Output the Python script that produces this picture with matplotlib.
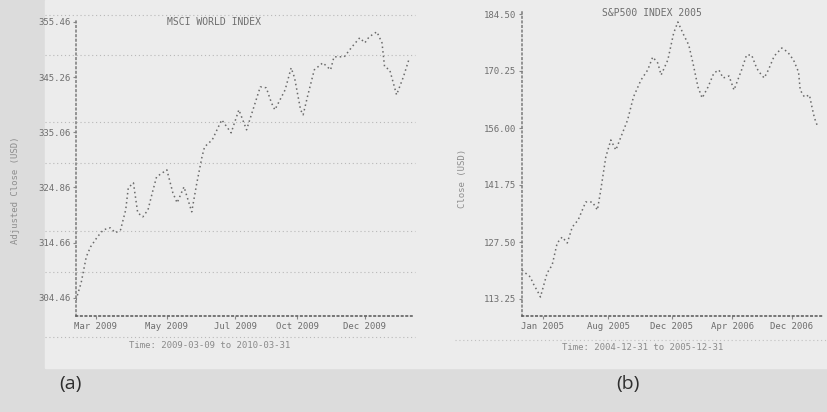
import matplotlib
matplotlib.use("Agg")
import matplotlib.pyplot as plt
from matplotlib.lines import Line2D
from matplotlib.patches import Rectangle

# Datos (a): dias desde el inicio y precio
a_days = [0, 6, 12, 17, 25, 32, 40, 46, 52, 58, 61, 67, 72, 78, 84, 89, 94,
          106, 113, 118, 126, 135, 141, 147, 150, 159, 170, 181, 190, 199,
          215, 222, 228, 232, 244, 251, 255, 262, 265, 270, 278, 288, 297,
          301, 313, 322, 331, 337, 342, 351, 357, 360, 366, 374, 382, 389]
a_price = [304.09, 307.23, 312.04, 313.88, 315.73, 317.03, 317.40, 316.47,
           317.03, 320.72, 324.79, 325.71, 320.17, 319.43, 320.72, 323.86,
           326.82, 328.11, 323.86, 322.02, 324.97, 320.35, 325.71, 330.52,
           332.36, 333.66, 337.35, 334.95, 339.20, 335.51, 343.45, 343.27,
           340.50, 339.20, 342.90, 346.96, 345.12, 339.20, 338.28, 341.60,
           346.59, 347.89, 346.59, 349.00, 349.00, 350.84, 352.51, 351.58,
           352.69, 353.62, 351.58, 347.15, 346.59, 341.97, 345.30, 348.81]
a_yticks = [304.46, 314.66, 324.86, 335.06, 345.26, 355.46]
a_xticks = [23, 106, 186, 258, 337]
a_xlabels = ["Mar 2009", "May 2009", "Jul 2009", "Oct 2009", "Dec 2009"]

# Datos (b)
b_days = [0, 4, 10, 13, 19, 22, 25, 30, 36, 42, 48, 54, 60, 67, 76, 84, 90,
          94, 100, 106, 112, 118, 126, 133, 142, 150, 156, 162, 166, 174,
          181, 186, 193, 199, 204, 210, 215, 222, 229, 235, 240, 247, 253,
          262, 268, 274, 280, 283, 289, 294, 301, 310, 317, 324, 330, 332,
          337, 343, 346, 349, 353]
b_price = [120.50, 119.75, 118.75, 117.25, 115.00, 113.75, 116.00, 119.75,
           121.75, 127.25, 128.75, 127.25, 131.25, 133.00, 137.50, 137.50,
           135.50, 140.50, 148.75, 153.00, 150.50, 153.75, 158.00, 163.75,
           168.00, 170.50, 173.75, 172.25, 169.25, 173.00, 179.75, 182.50,
           179.25, 176.75, 172.25, 166.25, 163.50, 166.25, 169.75, 170.50,
           168.50, 169.00, 165.50, 170.50, 174.25, 174.25, 171.00, 170.00,
           168.50, 170.50, 174.00, 176.00, 175.00, 173.00, 170.00, 165.50,
           163.75, 164.25, 161.25, 158.50, 156.25]
b_yticks = [113.25, 127.50, 141.75, 156.00, 170.25, 184.50]
b_xticks = [25, 103, 179, 251, 322]
b_xlabels = ["Jan 2005", "Aug 2005", "Dec 2005", "Apr 2006", "Dec 2006"]

W, H = 827, 412
ink = "#6e6e6e"
mono = "DejaVu Sans Mono"

fig = plt.figure(figsize=(W / 100, H / 100), dpi=100, facecolor="#dcdcdc")

# fondo del papel escaneado
fig.add_artist(Rectangle((45 / W, 1 - 368 / H), 1 - 45 / W, 368 / H,
                         transform=fig.transFigure, color="#ececec",
                         zorder=-10))
# lineas punteadas que se transparentan del papel
for y in [15, 55, 122, 163, 231, 272, 337]:
    fig.add_artist(Line2D([45 / W, 415 / W], [1 - y / H, 1 - y / H],
                          transform=fig.transFigure, color="#b8b8b8",
                          lw=0.8, ls=(0, (1, 2.5)), zorder=-5))
fig.add_artist(Line2D([455 / W, 1], [1 - 340 / H, 1 - 340 / H],
                      transform=fig.transFigure, color="#c0c0c0",
                      lw=0.8, ls=(0, (1, 2.5)), zorder=-5))


def style_axes(ax, yticks, xticks, xlabels):
    ax.set_facecolor("none")
    for s in ["top", "right"]:
        ax.spines[s].set_visible(False)
    ax.spines["left"].set_color("#7a7a7a")
    ax.spines["bottom"].set_color("#555555")
    for s in ["left", "bottom"]:
        ax.spines[s].set_linewidth(1.1)
        ax.spines[s].set_linestyle((0, (1, 2)))
    ax.set_yticks(yticks)
    ax.set_yticklabels([f"{v:.2f}" for v in yticks])
    ax.set_xticks(xticks)
    ax.set_xticklabels(xlabels)
    ax.tick_params(colors="#888888", labelsize=6.5, length=2, width=0.8,
                   pad=2)
    for lab in ax.get_xticklabels() + ax.get_yticklabels():
        lab.set_fontfamily(mono)
        lab.set_color(ink)


# Grafico (a)
ax1 = fig.add_axes([76 / W, 1 - 316 / H, (412 - 76) / W, (316 - 20) / H])
ax1.plot(a_days, a_price, color="#6a6a6a", lw=1.1, ls=(0, (1, 2)))
ax1.set_xlim(0, 392)
ax1.set_ylim(301.1, 355.8)
style_axes(ax1, a_yticks, a_xticks, a_xlabels)

# Grafico (b)
ax2 = fig.add_axes([522 / W, 1 - 316 / H, (822 - 522) / W, (316 - 12) / H])
ax2.plot(b_days, b_price, color="#6a6a6a", lw=1.1, ls=(0, (1, 2)))
ax2.set_xlim(0, 358)
ax2.set_ylim(109.0, 185.0)
style_axes(ax2, b_yticks, b_xticks, b_xlabels)

# Titulos y etiquetas
fig.text(214 / W, 1 - 22 / H, "MSCI WORLD INDEX", ha="center", va="center",
         fontsize=7, family=mono, color=ink)
fig.text(652 / W, 1 - 13 / H, "S&P500 INDEX 2005", ha="center", va="center",
         fontsize=7, family=mono, color=ink)
fig.text(210 / W, 1 - 346 / H, "Time: 2009-03-09 to 2010-03-31",
         ha="center", va="center", fontsize=6.5, family=mono, color="#8a8a8a")
fig.text(643 / W, 1 - 347 / H, "Time: 2004-12-31 to 2005-12-31",
         ha="center", va="center", fontsize=6.5, family=mono, color="#8a8a8a")
fig.text(15 / W, 1 - 190 / H, "Adjusted Close (USD)", rotation=90,
         ha="center", va="center", fontsize=6.5, family=mono, color="#8e8e8e")
fig.text(463 / W, 1 - 178 / H, "Close (USD)", rotation=90,
         ha="center", va="center", fontsize=6.5, family=mono, color="#8e8e8e")

fig.text(70 / W, 1 - 384 / H, "(a)", ha="center", va="center", fontsize=14,
         family="Open Sans", color="#2e2e2e")
fig.text(628 / W, 1 - 384 / H, "(b)", ha="center", va="center", fontsize=14,
         family="Open Sans", color="#2e2e2e")

fig.savefig("out.png", dpi=100, facecolor=fig.get_facecolor())
